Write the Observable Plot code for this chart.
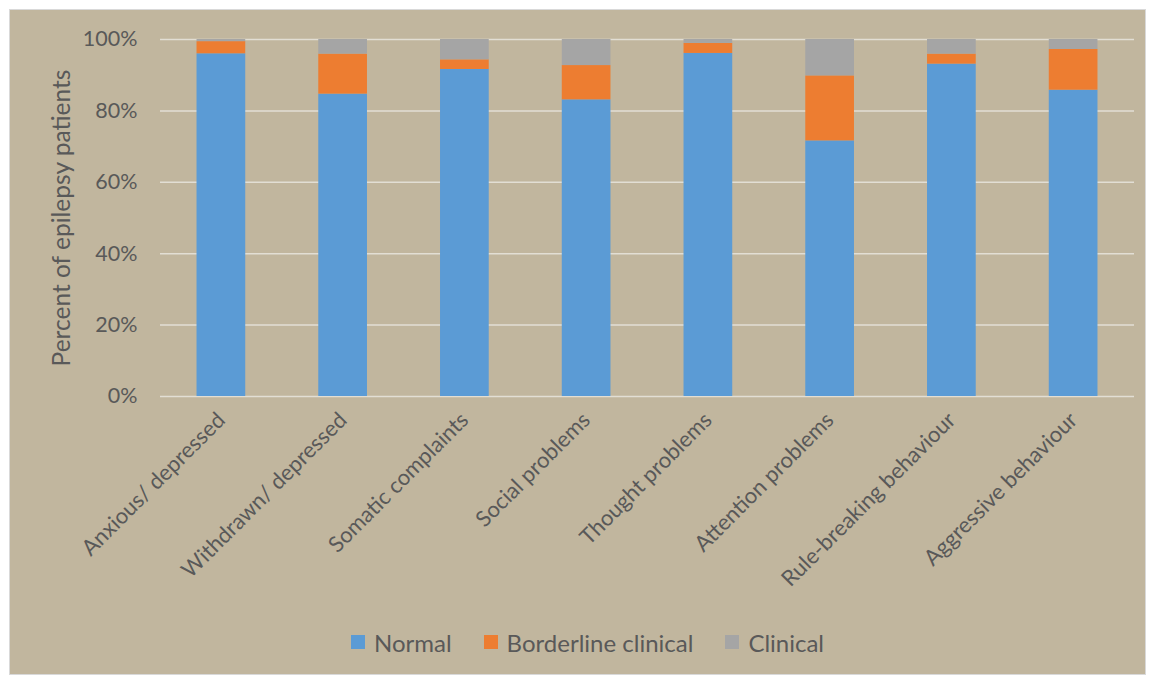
<!DOCTYPE html>
<html>
<head>
<meta charset="utf-8">
<script src="https://cdn.jsdelivr.net/npm/d3@7"></script>
<script src="https://cdn.jsdelivr.net/npm/@observablehq/plot@0.6"></script>
<style>
  html, body { margin: 0; padding: 0; background: #ffffff; }
  #frame {
    position: absolute; left: 9px; top: 9px; width: 1135px; height: 664px;
    background: #c1b69e; border: 1px solid #d9d9d9;
    font-family: Lato, "Open Sans", sans-serif; color: #595959;
  }
  #legend {
    position: absolute; left: 0; top: 617px; width: 1135px; height: 30px;
    display: flex; justify-content: center; align-items: center; gap: 32px;
    font-size: 24px; color: #595959; box-sizing: border-box;
    transform: translateX(10px);
  }
  .item { display: flex; align-items: center; gap: 9px; }
  .sw { width: 14px; height: 14px; display: inline-block; }
</style>
</head>
<body>
<div id="frame"></div>
<script>
const categories = ["Anxious/ depressed", "Withdrawn/ depressed", "Somatic complaints", "Social problems", "Thought problems", "Attention problems", "Rule-breaking behaviour", "Aggressive behaviour"];
const series = ["Normal", "Borderline clinical", "Clinical"];
const colors = ["#5b9bd5", "#ed7d31", "#a5a5a5"];
const normal =     [96.0, 84.7, 91.6, 83.1, 96.1, 71.6, 93.1, 85.8];
const borderline = [3.4, 11.2, 2.7, 9.6, 2.8, 18.2, 2.8, 11.4];
const clinical =   [0.6, 4.1, 5.7, 7.3, 1.1, 10.2, 4.1, 2.8];
const yTicks = [0, 0.2, 0.4, 0.6, 0.8, 1.0];
const yTitle = "Percent of epilepsy patients";

const values = [normal, borderline, clinical];
const rows = [];
series.forEach((s, si) => categories.forEach((c, ci) => rows.push({category: c, series: s, value: values[si][ci] / 100})));

const chart = Plot.plot({
  width: 1135,
  height: 610,
  marginLeft: 150,
  marginRight: 11,
  marginTop: 29,
  marginBottom: 224,
  style: {background: "transparent", fontFamily: "Lato, 'Open Sans', sans-serif", fontSize: "21px", color: "#595959"},
  x: {domain: categories, paddingInner: 0.6, paddingOuter: 0.3, round: false, label: null},
  y: {domain: [0, 1], ticks: yTicks, tickFormat: d3.format(".0%")},
  color: {domain: series, range: colors},
  marks: [
    Plot.gridY(yTicks, {stroke: "#e2ded4", strokeOpacity: 1, strokeWidth: 1.5}),
    Plot.barY(rows, Plot.stackY({order: series}, {x: "category", y: "value", fill: "series"})),
    Plot.axisY({ticks: yTicks, tickFormat: d3.format(".0%"), tickSize: 0, tickPadding: 23, fontSize: 21.5, label: null}),
    Plot.text([yTitle], {frameAnchor: "left", rotate: -90, dx: -98, fontSize: 24.5, fill: "#595959", textAnchor: "middle", lineAnchor: "middle"}),
    Plot.axisX({tickSize: 0, tickPadding: 20, tickRotate: -45, fontSize: 22, label: null})
  ]
});
chart.style.position = "absolute";
chart.style.left = "0px";
chart.style.top = "0px";
const frame = document.getElementById("frame");
frame.appendChild(chart);

const legend = document.createElement("div");
legend.id = "legend";
series.forEach((s, i) => {
  const it = document.createElement("div");
  it.className = "item";
  const sw = document.createElement("span");
  sw.className = "sw";
  sw.style.background = colors[i];
  const t = document.createElement("span");
  t.textContent = s;
  it.appendChild(sw); it.appendChild(t);
  legend.appendChild(it);
});
frame.appendChild(legend);
</script>
</body>
</html>
